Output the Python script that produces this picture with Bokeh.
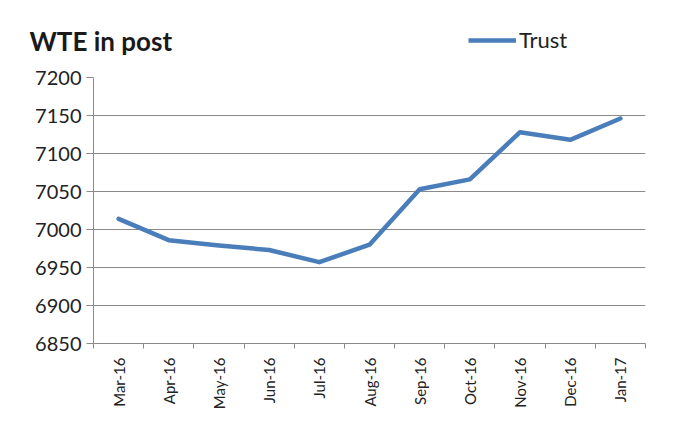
import math
from bokeh.plotting import figure
from bokeh.layouts import column
from bokeh.models import (Range1d, FixedTicker, Legend, LegendItem, Label, ColumnDataSource)
from bokeh.embed import file_html
from bokeh.resources import INLINE

months = ["Mar-16", "Apr-16", "May-16", "Jun-16", "Jul-16", "Aug-16",
          "Sep-16", "Oct-16", "Nov-16", "Dec-16", "Jan-17"]
trust = [7014, 6986, 6979, 6973, 6957, 6980, 7053, 7066, 7128, 7118, 7146]
y_ticks = [6850, 6900, 6950, 7000, 7050, 7100, 7150, 7200]
title_text = "WTE in post"
series_name = "Trust"

FONT = "Lato"
GRID = "#8a8a8a"
LINE = "#4a7ebb"
W = 658
HEAD = 62

xpos = [i + 0.5 for i in range(len(months))]
src = ColumnDataSource(dict(x=xpos, y=trust, m=months))

# ---------- header (title + legend) ----------
h = figure(width=W, height=HEAD, output_backend="svg", toolbar_location=None,
           x_range=Range1d(0, W), y_range=Range1d(0, HEAD),
           min_border=0, min_border_left=0, min_border_right=0,
           min_border_top=0, min_border_bottom=0, frame_align=False,
           x_axis_location=None, y_axis_location=None)
h.grid.visible = False
h.outline_line_color = None
h.border_fill_color = "white"
h.background_fill_color = "white"
# same series drawn off-range in the header, only to provide the legend swatch
proxy = h.line("x", "y", source=src, line_color=LINE, line_width=4.5)
h.add_layout(Label(x=29, y=HEAD - 40, text=title_text, text_font=FONT,
                   text_font_size="26px", text_font_style="bold",
                   text_color="#1a1a1a", text_baseline="middle"))
legend = Legend(items=[LegendItem(label=series_name, renderers=[proxy])],
                location=(468, HEAD - 42 - 11), orientation="horizontal",
                label_text_font=FONT, label_text_font_size="22px",
                label_text_color="#222222", glyph_width=48, glyph_height=22,
                label_height=22, label_standoff=3, padding=0, margin=0,
                border_line_color=None, background_fill_alpha=0)
h.add_layout(legend)

# ---------- main chart ----------
p = figure(width=W, height=427 - HEAD, output_backend="svg", toolbar_location=None,
           x_range=Range1d(0, len(months)), y_range=Range1d(y_ticks[0], y_ticks[-1]),
           min_border_left=93, min_border_top=77 - HEAD, min_border_right=W - 645,
           min_border_bottom=84, frame_align=False)
p.outline_line_color = None
p.background_fill_color = "white"
p.border_fill_color = "white"

p.line("x", "y", source=src, line_color=LINE, line_width=4.5,
       line_join="round", line_cap="round")

# y axis
p.yaxis.ticker = FixedTicker(ticks=y_ticks)
p.yaxis.major_tick_out = 7
p.yaxis.major_tick_in = 0
p.yaxis.minor_tick_out = 0
p.yaxis.minor_tick_in = 0
p.yaxis.axis_line_color = GRID
p.yaxis.major_tick_line_color = GRID
p.yaxis.major_label_text_font = FONT
p.yaxis.major_label_text_font_size = "20px"
p.yaxis.major_label_text_color = "#222222"
p.yaxis.major_label_standoff = 5
p.ygrid.grid_line_color = GRID
p.ygrid.grid_line_width = 1
p.ygrid.ticker = FixedTicker(ticks=y_ticks)

# x axis: labels at category centres, ticks at boundaries
p.xaxis.ticker = FixedTicker(ticks=xpos, minor_ticks=list(range(len(months) + 1)))
p.xaxis.major_label_overrides = {x: m for x, m in zip(xpos, months)}
p.xaxis.major_tick_out = 0
p.xaxis.major_tick_in = 0
p.xaxis.minor_tick_out = 5
p.xaxis.minor_tick_in = 0
p.xaxis.minor_tick_line_color = GRID
p.xaxis.axis_line_color = GRID
p.xaxis.major_label_orientation = math.pi / 2
p.xaxis.major_label_text_font = FONT
p.xaxis.major_label_text_font_size = "15px"
p.xaxis.major_label_text_color = "#222222"
p.xaxis.major_label_standoff = 9
p.xgrid.grid_line_color = None

layout = column(h, p, spacing=0)
open("out.html", "w").write(file_html(layout, INLINE))
